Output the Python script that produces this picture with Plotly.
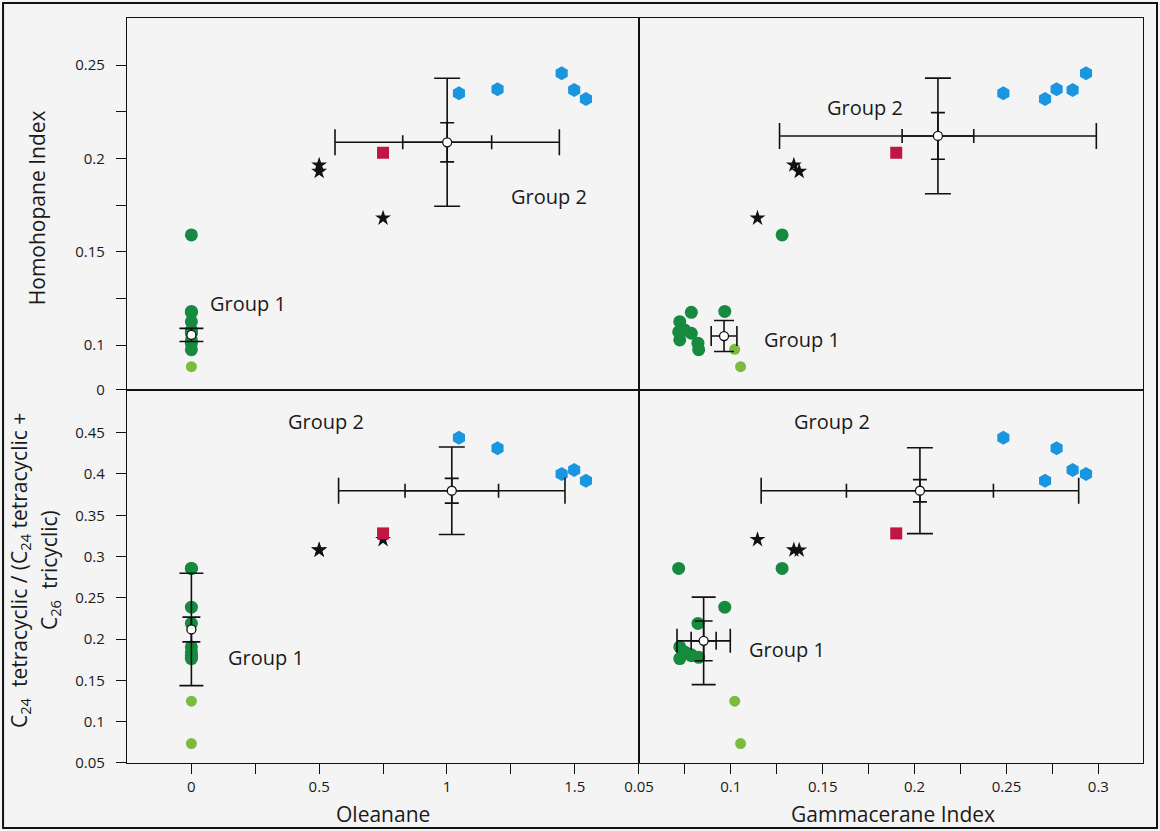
import plotly.graph_objects as go
from plotly.subplots import make_subplots

# ---------------- data (per sample) ----------------
# Group 2 (blue hexagons)
ole_blue = [1.047, 1.198, 1.449, 1.498, 1.544]
hh_blue = [0.2349, 0.2370, 0.2456, 0.2366, 0.2318]
gam_blue = [0.2483, 0.2773, 0.2933, 0.2860, 0.2710]
c24_blue = [0.444, 0.431, 0.400, 0.4048, 0.3918]

# black stars
ole_star = [0.5, 0.5, 0.75]
hh_star = [0.1964, 0.1930, 0.1680]
gam_star = [0.1343, 0.1372, 0.1145]
c24_star = [0.3080, 0.3078, 0.3205]

# red square
ole_sq = [0.75]
hh_sq = [0.203]
gam_sq = [0.190]
c24_sq = [0.328]

# Group 1 (dark green circles)
ole_dg = [0, 0, 0, 0, 0, 0, 0, 0, 0, 0]
hh_dg = [0.159, 0.118, 0.101, 0.107, 0.1175, 0.1125, 0.108, 0.1027, 0.1063, 0.0975]
gam_dg = [0.1279, 0.0967, 0.0821, 0.0716, 0.0785, 0.0722, 0.0749, 0.0722, 0.0785, 0.0825]
c24_dg = [0.2856, 0.2387, 0.219, 0.2856, 0.181, 0.1906, 0.1845, 0.1765, 0.180, 0.178]

# light green circles
ole_lg = [0, 0]
hh_lg = [0.0977, 0.0884]
gam_lg = [0.1021, 0.1053]
c24_lg = [0.1248, 0.0735]

# group means: [x, y, x_err_outer, y_err_outer, x_err_inner, y_err_inner]
g1_mean_tl = [0.0, 0.1054, 0.0, 0.0035, 0.0, 0.0]
g2_mean_tl = [1.001, 0.2086, 0.439, 0.0343, 0.174, 0.0105]
g1_mean_tr = [0.0963, 0.1048, 0.007, 0.0083, 0.0, 0.0]
g2_mean_tr = [0.2127, 0.2120, 0.0862, 0.0310, 0.0195, 0.0125]
g1_mean_bl = [0.0, 0.2117, 0.0, 0.068, 0.0, 0.015]
g2_mean_bl = [1.019, 0.3797, 0.443, 0.053, 0.183, 0.015]
g1_mean_br = [0.0852, 0.1979, 0.0145, 0.053, 0.0068, 0.024]
g2_mean_br = [0.2029, 0.3797, 0.0864, 0.052, 0.040, 0.0135]

# axis tick labels
ole_ticks = [0, 0.25, 0.5, 0.75, 1, 1.25, 1.5]
ole_ticktext = ["0", "", "0.5", "", "1", "", "1.5"]
gam_ticks = [0.05, 0.075, 0.1, 0.125, 0.15, 0.175, 0.2, 0.225, 0.25, 0.275, 0.3]
gam_ticktext = ["0.05", "", "0.1", "", "0.15", "", "0.2", "", "0.25", "", "0.3"]
hh_ticks = [0.0762, 0.1, 0.125, 0.15, 0.175, 0.2, 0.225, 0.25]
hh_ticktext = ["0", "0.1", "", "0.15", "", "0.2", "", "0.25"]
c24_ticks = [0.05, 0.1, 0.15, 0.2, 0.25, 0.3, 0.35, 0.4, 0.45]
c24_ticktext = ["0.05", "0.1", "0.15", "0.2", "0.25", "0.3", "0.35", "0.4", "0.45"]

# ---------------- styling ----------------
FONT = "Open Sans"
BG = "#f4f4f4"
BLUE = "#1996df"
DGREEN = "#168a3e"
LGREEN = "#7dbb3f"
RED = "#c0163f"

fig = make_subplots(rows=2, cols=2, horizontal_spacing=0, vertical_spacing=0)

panels = {
    (1, 1): (ole_blue, hh_blue, ole_star, hh_star, ole_sq, hh_sq, ole_dg, hh_dg, ole_lg, hh_lg, g1_mean_tl, g2_mean_tl),
    (1, 2): (gam_blue, hh_blue, gam_star, hh_star, gam_sq, hh_sq, gam_dg, hh_dg, gam_lg, hh_lg, g1_mean_tr, g2_mean_tr),
    (2, 1): (ole_blue, c24_blue, ole_star, c24_star, ole_sq, c24_sq, ole_dg, c24_dg, ole_lg, c24_lg, g1_mean_bl, g2_mean_bl),
    (2, 2): (gam_blue, c24_blue, gam_star, c24_star, gam_sq, c24_sq, gam_dg, c24_dg, gam_lg, c24_lg, g1_mean_br, g2_mean_br),
}


def err(v, w):
    if v and v > 0:
        return dict(type="constant", value=v, color="#111111", thickness=1.6, width=w, visible=True)
    return dict(visible=False)


def add_mean(m, row, col, w_out, w_in):
    x, y, exo, eyo, exi, eyi = m
    fig.add_trace(go.Scatter(x=[x], y=[y], mode="markers", marker=dict(size=1, color="rgba(0,0,0,0)"),
                             error_x=err(exo, w_out), error_y=err(eyo, w_out),
                             showlegend=False, hoverinfo="skip"), row=row, col=col)
    if exi or eyi:
        fig.add_trace(go.Scatter(x=[x], y=[y], mode="markers", marker=dict(size=1, color="rgba(0,0,0,0)"),
                                 error_x=err(exi, w_in), error_y=err(eyi, w_in),
                                 showlegend=False, hoverinfo="skip"), row=row, col=col)
    fig.add_trace(go.Scatter(x=[x], y=[y], mode="markers",
                             marker=dict(size=9, color="white", line=dict(color="#111111", width=1.3)),
                             showlegend=False, hoverinfo="skip"), row=row, col=col)


for (r, c), (bx, by, sx, sy, qx, qy, dx, dy, lx, ly, m1, m2) in panels.items():
    fig.add_trace(go.Scatter(x=lx, y=ly, mode="markers",
                             marker=dict(symbol="circle", size=11, color=LGREEN), showlegend=False), row=r, col=c)
    fig.add_trace(go.Scatter(x=dx, y=dy, mode="markers",
                             marker=dict(symbol="circle", size=13, color=DGREEN), showlegend=False), row=r, col=c)
    fig.add_trace(go.Scatter(x=bx, y=by, mode="markers",
                             marker=dict(symbol="hexagon", size=14, color=BLUE), showlegend=False), row=r, col=c)
    fig.add_trace(go.Scatter(x=sx, y=sy, mode="markers",
                             marker=dict(symbol="star", size=12, color="#111111"), showlegend=False), row=r, col=c)
    fig.add_trace(go.Scatter(x=qx, y=qy, mode="markers",
                             marker=dict(symbol="square", size=12, color=RED), showlegend=False), row=r, col=c)
    w1 = 12 if (r, c) != (1, 2) else 10
    add_mean(m1, r, c, w1, 9)
    add_mean(m2, r, c, 13, 7)

XS = 0.5039
YS = 0.5007
OLE_RANGE = [-0.252, 1.7515]
GAM_RANGE = [0.05, 0.3243]
axis_common = dict(showline=True, linecolor="#111111", linewidth=1.4, mirror=True,
                   showgrid=False, zeroline=False, ticks="outside", ticklen=10, tickwidth=1.4,
                   tickcolor="#111111", tickfont=dict(family=FONT, size=15, color="#1a1a1a"))
no_ticks = {**axis_common, "ticks": "", "showticklabels": False}
y_ticks = {**axis_common, "ticklabelstandoff": 8}

fig.update_layout(
    xaxis=dict(domain=[0, XS], range=OLE_RANGE, **no_ticks),
    xaxis2=dict(domain=[XS, 1], range=GAM_RANGE, **no_ticks),
    xaxis3=dict(domain=[0, XS], range=OLE_RANGE, tickmode="array", tickvals=ole_ticks,
                ticktext=ole_ticktext, **axis_common),
    xaxis4=dict(domain=[XS, 1], range=GAM_RANGE, tickmode="array", tickvals=gam_ticks,
                ticktext=gam_ticktext, **axis_common),
    yaxis=dict(domain=[YS, 1], range=[0.0759, 0.2752], tickmode="array", tickvals=hh_ticks,
               ticktext=hh_ticktext, **y_ticks),
    yaxis2=dict(domain=[YS, 1], range=[0.0759, 0.2752], **no_ticks),
    yaxis3=dict(domain=[0, YS], range=[0.05, 0.5017], tickmode="array", tickvals=c24_ticks,
                ticktext=c24_ticktext, **y_ticks),
    yaxis4=dict(domain=[0, YS], range=[0.05, 0.5017], **no_ticks),
)

TF = dict(family=FONT, size=21, color="#1a1a1a")
GF = dict(family=FONT, size=20, color="#1a1a1a")

annotations = [
    # axis titles
    dict(text="Homohopane Index", xref="paper", yref="paper", x=-0.0886, y=0.746, textangle=-90,
         showarrow=False, font=TF, xanchor="center", yanchor="middle"),
    dict(text="C<sub>24</sub>  tetracyclic / (C<sub>24</sub> tetracyclic +", xref="paper", yref="paper",
         x=-0.1053, y=0.2577, textangle=-90, showarrow=False, font=TF, xanchor="center", yanchor="middle"),
    dict(text="C<sub>26</sub>  tricyclic)", xref="paper", yref="paper",
         x=-0.0758, y=0.259, textangle=-90, showarrow=False, font=TF, xanchor="center", yanchor="middle"),
    dict(text="Oleanane", xref="paper", yref="paper", x=0.252, y=-0.0685, showarrow=False, font=TF,
         xanchor="center", yanchor="middle"),
    dict(text="Gammacerane Index", xref="paper", yref="paper", x=0.754, y=-0.0685, showarrow=False, font=TF,
         xanchor="center", yanchor="middle"),
    # group labels
    dict(text="Group 1", xref="x", yref="y", x=0.222, y=0.122, showarrow=False, font=GF),
    dict(text="Group 2", xref="x", yref="y", x=1.40, y=0.1793, showarrow=False, font=GF),
    dict(text="Group 2", xref="x2", yref="y2", x=0.1729, y=0.227, showarrow=False, font=GF),
    dict(text="Group 1", xref="x2", yref="y2", x=0.1386, y=0.1027, showarrow=False, font=GF),
    dict(text="Group 2", xref="x3", yref="y3", x=0.528, y=0.463, showarrow=False, font=GF),
    dict(text="Group 1", xref="x3", yref="y3", x=0.293, y=0.178, showarrow=False, font=GF),
    dict(text="Group 2", xref="x4", yref="y4", x=0.155, y=0.464, showarrow=False, font=GF),
    dict(text="Group 1", xref="x4", yref="y4", x=0.1304, y=0.1878, showarrow=False, font=GF),
]

fig.update_layout(
    width=1160, height=831,
    margin=dict(l=127, r=17, t=18, b=68, pad=0),
    paper_bgcolor=BG, plot_bgcolor=BG,
    font=dict(family=FONT, color="#1a1a1a"),
    annotations=annotations,
    shapes=[dict(type="rect", xref="paper", yref="paper", x0=-0.122, x1=1.0138, y0=-0.0872, y1=1.0201,
                 line=dict(color="#111111", width=2), fillcolor="rgba(0,0,0,0)", layer="above")],
    showlegend=False,
)

fig.write_html("out.html", config={"displayModeBar": False},
               post_script="document.body.style.margin='0';document.body.style.padding='0';")
